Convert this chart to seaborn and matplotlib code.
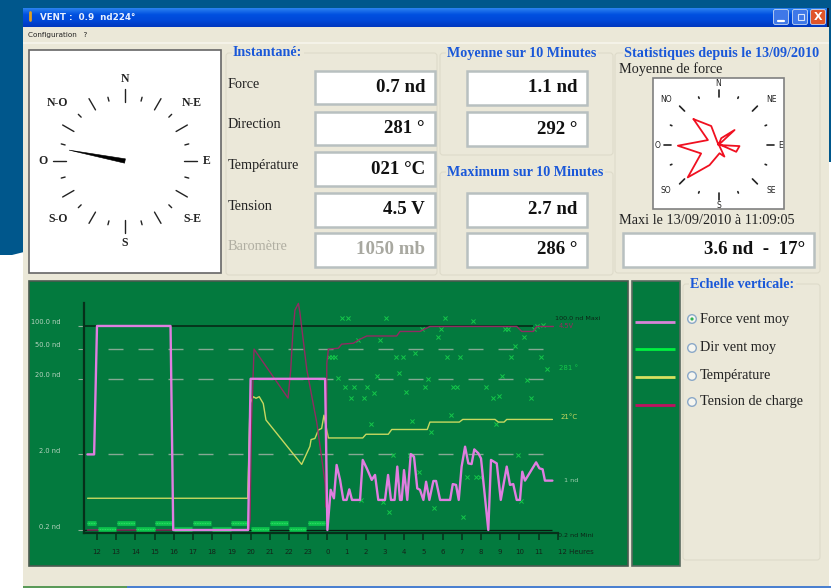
import numpy as np
import pandas as pd
import seaborn as sns
import matplotlib
matplotlib.use("Agg")
import matplotlib.pyplot as plt
from matplotlib.patches import Rectangle, FancyBboxPatch, Polygon, Circle

# ---------- data (hours since 12:00) ----------
force_t = [-0.5,-0.15,0,3.83,3.97,7.87,8.0,11.88,12.0,12.17,12.34,12.48,12.66,12.83,13.0,13.14,13.28,13.70,13.84,14.05,14.31,14.48,14.65,15.0,15.16,15.31,15.5,15.64,15.78,15.87,15.99,16.16,16.34,16.51,16.68,16.82,17.0,17.14,17.31,17.52,17.66,17.87,18.39,18.53,18.70,18.84,18.99,19.17,19.34,19.51,19.65,19.86,20.0,20.38,20.52,20.82,21.03,21.34,21.51,21.68,21.86,22.03,22.15,22.29,22.87,23.04,23.21,23.33,23.72]
force_v = [2.0,2.0,100,100,0.2,0.2,20,20,0.2,0.68,0.525,1.45,0.92,0.5,0.5,0.69,0.5,0.5,1.69,1.31,0.92,1.07,0.5,0.5,1.07,0.5,0.5,1.38,0.5,0.5,1.24,0.5,2.02,1.87,0.71,0.68,0.5,0.87,0.5,0.89,0.89,0.5,0.5,0.81,0.79,0.5,1.38,2.53,1.52,1.49,2.33,2.07,1.77,0.2,1.69,1.52,0.5,1.38,0.79,0.81,0.5,0.5,1.18,0.90,1.57,1.31,1.27,0.90,0.90]

volt_t = [-0.5,7.9,7.97,8.05,8.18,9.95,10.09,10.2,10.31,10.49,10.57,10.93,11.45,11.88,11.94,11.97,12.05,12.57,12.74,13.35,13.61,14.05,15.61,15.78,16.82,17.34,21.86,22.12,22.73,22.9,23.77]
volt_v = [0,0,0.22,2.43,3.99,2.91,3.53,4.35,4.85,5.0,4.79,3.53,2.36,1.04,0.5,3.68,3.99,4.01,4.10,4.12,4.19,4.28,4.28,4.38,4.38,4.49,4.49,4.38,4.38,4.49,4.49]

temp_t = [-0.49,7.85,7.97,8.14,8.28,8.45,8.66,8.80,10.66,11.09,11.15,11.35,11.53,11.70,11.82,12.05,13.84,14.01,15.17,15.35,17.2,17.34,18.87,19.05,20.73,20.9,21.2,21.34,23.72]
temp_v = [6.0,6.0,23.9,25.2,24.9,25.2,23.9,20.8,12.4,15.8,17.1,17.3,18.9,19.2,21.7,17.4,17.4,18.1,18.1,19.0,19.0,20.4,20.4,20.9,20.9,20.4,20.4,20.9,20.9]

dir_t = [12.10,12.24,12.41,12.57,12.74,12.90,13.07,13.25,13.39,13.59,13.77,13.92,14.08,14.25,14.43,14.57,14.74,14.91,15.07,15.23,15.40,15.57,15.73,15.92,16.10,16.30,16.42,16.56,16.75,16.91,17.08,17.26,17.40,17.57,17.74,17.90,18.11,18.25,18.44,18.56,18.73,18.92,19.08,19.25,19.57,19.74,19.95,20.26,20.61,20.77,20.92,21.08,21.25,21.42,21.58,21.75,21.91,22.08,22.24,22.38,22.59,22.78,22.94,23.11,23.25,23.42]
dir_v = [298,298,298,266,359,253,359,236,253,325,77,236,253,195,243,269,325,75,359,59,147,298,274,298,245,147,200,305,120,342,253,264,182,65,330,342,359,298,209,253,253,298,51,113,355,113,113,253,236,195,239,269,342,342,298,316,147,76,330,263,236,342,347,298,349,280]

band_start = [-0.5,0.03,1.03,2.03,3.0,4.0,5.0,6.0,7.0,8.0,9.0,9.98,10.97]
band_end   = [-0.07,1.0,1.97,3.0,3.93,4.97,5.93,6.97,7.87,8.97,9.93,10.9,11.88]
band_dir   = [42,32,42,32,42,32,42,32,42,32,42,32,42]

grid_dashed = [50, 20, 2]
y_tick_vals = [100, 50, 20, 2, 0.2]
y_tick_text = ["100.0 nd", "50.0 nd", "20.0 nd", "2.0 nd", "0.2 nd"]
hour_labels = ["12","13","14","15","16","17","18","19","20","21","22","23","0","1","2","3","4","5","6","7","8","9","10","11","12 Heures"]

rose_dir   = [316,339,0,47,22,0,93,111,0,153,173,204,223.5,244,269,295,316]
rose_force = [1.08,0.61,0,0.66,0.22,0,0.63,0.57,0.03,0.39,0.25,0.66,1.34,0.58,1.22,0.35,1.08]

needle_dir = 281
inst_labels = ["Force","Direction","Température","Tension","Baromètre"]
inst_values = ["0.7 nd","281 °","021 °C","4.5 V","1050 mb"]
legend_labels = ["Force vent moy","Dir vent moy","Température","Tension de charge"]

# ---------- theme ----------
sns.set_theme(style="white")
plt.rcParams['font.family'] = ['Liberation Serif', 'DejaVu Sans']
W, H = 831, 588
fig = plt.figure(figsize=(W/100, H/100), dpi=100, facecolor="white")

WIN = "#ebe8d8"; BLUE = "#1a58d8"; GREEN = "#037a3e"
BODY = 10.3; VAL = 13.6; HEAD = 10.2
bg = fig.add_axes([0, 0, 1, 1]); bg.set_axis_off()
bg.imshow(np.linspace(0, 1, 20).reshape(-1, 1), extent=(23, 827, 27, 8), aspect="auto",
          cmap=matplotlib.colors.LinearSegmentedColormap.from_list("t", ["#2a80f0", "#0050e0", "#0048d8", "#0038c0"]), zorder=2)
bg.set_xlim(0, W); bg.set_ylim(H, 0)

def rect(x0, y0, x1, y1, fc, ec="none", lw=0, z=1):
    bg.add_patch(Rectangle((x0, y0), x1-x0, y1-y0, fc=fc, ec=ec, lw=lw, zorder=z))

# desktop
rect(0, 0, W, 255, "#00578c", z=0)
rect(829, 162, W, H, "white", z=0.5)
bg.add_patch(Polygon([(0, 258), (24, 252), (24, H), (0, H)], fc="white", ec="none", zorder=0.5))
rect(23, 8, 829, 586, WIN)
rect(827, 8, 829, 27, "#101830", z=2)
rect(23, 586, 127, H, "#5a9a58", z=2); rect(127, 586, W, H, "#4a80d0", z=2)
rect(23, 42, 829, 44, "#f4f2e8", z=1.5)

# window buttons
for x0, c in [(774, "#3f78e8"), (793, "#3f78e8"), (811, "#e0552a")]:
    bg.add_patch(FancyBboxPatch((x0, 10), 14, 14, boxstyle="round,pad=0.5,rounding_size=2", fc=c, ec="#c8d8f0", lw=0.6, zorder=3))
bg.plot([778, 784], [21, 21], color="white", lw=1.6, zorder=4)
bg.add_patch(Rectangle((798, 14), 6, 6, fc="none", ec="#d8e4f8", lw=0.8, zorder=4))
bg.text(818, 17, "X", color="white", fontsize=8, fontweight="bold", family="DejaVu Sans", ha="center", va="center", zorder=4)

bg.text(40, 17, "VENT :  0.9  nd224°", color="#e8f0ff", fontsize=6.3, fontweight="bold", family="DejaVu Sans", va="center", zorder=4)
bg.plot([30, 30], [12, 20], color="#e0a020", lw=2, zorder=4)
bg.text(28, 34.5, "Configuration   ?", color="#222222", fontsize=5.2, family="DejaVu Sans", va="center", zorder=4)

def group(x0, y0, x1, y1, title, tx):
    bg.add_patch(FancyBboxPatch((x0, y0), x1-x0, y1-y0, boxstyle="round,pad=0,rounding_size=3",
                                fc="#ebe8d9", ec="#dedbca", lw=0.8, zorder=1.2))
    bg.text(tx, y0, title, color=BLUE, fontsize=HEAD, fontweight="bold", va="center", zorder=3,
            bbox=dict(fc=WIN, ec="none", pad=1))

def vbox(x0, y0, x1, y1, txt, tx, color="#111111"):
    rect(x0, y0, x1, y1, "white", ec="#b8c0c0", lw=1.8, z=2)
    bg.text(tx, (y0+y1)/2, txt, color=color, fontsize=VAL, fontweight="bold", ha="right", va="center", zorder=3)

group(226, 53, 437, 275, "Instantané:", 233)
group(440, 53, 613, 155, "Moyenne sur 10 Minutes", 447)
group(440, 172, 613, 275, "Maximum sur 10 Minutes", 447)
group(615, 53, 820, 273, "Statistiques depuis le 13/09/2010", 624)
group(683, 284, 820, 560, "Echelle verticale:", 690)

box_y = [(71, 104), (112, 145), (152, 186), (193, 227), (233, 267)]
label_y = [85, 125, 165, 206, 246]
for i, (lab, val) in enumerate(zip(inst_labels, inst_values)):
    grey = i == 4
    bg.text(228, label_y[i], lab, color="#b0aea2" if grey else "#222222", fontsize=BODY, va="center", zorder=3)
    vbox(315, box_y[i][0], 435, box_y[i][1], val, 425, "#a8a8a0" if grey else "#111111")
vbox(467, 71, 587, 105, "1.1 nd", 577)
vbox(467, 112, 587, 146, "292 °", 577)
vbox(467, 193, 587, 227, "2.7 nd", 577)
vbox(467, 233, 587, 267, "286 °", 577)
bg.text(619, 69, "Moyenne de force", color="#222222", fontsize=BODY, va="center", zorder=3)
bg.text(619, 221, "Maxi le 13/09/2010 à 11:09:05", color="#222222", fontsize=BODY, va="center", zorder=3)
vbox(623, 233, 814, 267, "3.6 nd  -  17°", 805)

# white compass boxes
rect(29, 50, 221, 273, "white", ec="#666666", lw=1.2, z=2)
rect(653, 78, 784, 209, "white", ec="#808080", lw=1.2, z=2)

def polar_axes(cx, cy, R):
    a = fig.add_axes([(cx-R)/W, 1-(cy+R)/H, 2*R/W, 2*R/H], projection="polar", zorder=5)
    a.set_theta_zero_location("N"); a.set_theta_direction(-1)
    a.set_axis_off(); a.patch.set_alpha(0); a.set_rlim(0, R)
    return a

# large compass
comp = polar_axes(125, 161, 92)
for deg in range(0, 360, 15):
    major = deg % 30 == 0
    comp.plot(np.radians([deg, deg]), [59, 72] if major else [62, 66], color="#222222", lw=1.0)
for lab, deg, r in [("N", 0, 82), ("E", 90, 82), ("S", 180, 82), ("O", 270, 82),
                    ("N-E", 49, 89), ("S-E", 131, 89), ("S-O", 229, 89), ("N-O", 311, 89)]:
    comp.text(np.radians(deg), r, lab, fontsize=8.5, fontweight="bold", color="#222222", ha="center", va="center")
needle_len = 57
nth = np.radians(needle_dir)
dx, dy = np.sin(nth), -np.cos(nth)
bg.add_patch(Polygon([(125-dy*2.2, 161+dx*2.2), (125+dy*2.2, 161-dx*2.2),
                      (125+needle_len*dx, 161+needle_len*dy)], fc="#000000", ec="#000000", lw=0.4, zorder=3))

# wind-force rose
rose = polar_axes(718.5, 145, 65)
rscale = 134/3/1.34
rose.set_rlim(0, 65/rscale)
for deg in np.arange(0, 360, 22.5):
    major = deg % 45 == 0
    r0, r1 = (48, 55) if major else (50.5, 52)
    rose.plot(np.radians([deg, deg]), [r0/rscale, r1/rscale], color="#222222", lw=1.2)
for lab, deg, r in [("N", 0, 62), ("E", 90, 62), ("S", 180, 60), ("O", 270, 61),
                    ("NE", 49, 70), ("SE", 131, 70), ("SO", 229, 70), ("NO", 311, 70)]:
    rose.text(np.radians(deg), r/rscale, lab, fontsize=5.5, color="#222222", family="DejaVu Sans", ha="center", va="center")
rose_df = pd.DataFrame({"theta": np.radians(rose_dir), "force": rose_force})
sns.lineplot(data=rose_df, x="theta", y="force", ax=rose, color="#f01020", lw=1.3, sort=False, estimator=None, legend=False)
rose.set_rlim(0, 65/rscale)
rose.set_axis_off()

# chart panels
rect(29, 281, 628, 566, GREEN, ec="#4a5a50", lw=1.2, z=2)
rect(632, 281, 680, 566, GREEN, ec="#5a6a60", lw=1.2, z=2)
swatch = ["#d884d8", "#00f040", "#d8e060", "#c01060"]
swatch_y = [321.5, 349, 377, 405]
radio_y = [319, 348, 376, 402]
for lab, c, sy, ry in zip(legend_labels, swatch, swatch_y, radio_y):
    bg.plot([635, 675], [sy, sy], color=c, lw=2, zorder=3, solid_capstyle="butt")
    bg.add_patch(Circle((692, ry), 4.3, fc="#f6f6f0", ec="#8aa8c8", lw=1, zorder=3))
    bg.text(700, ry, lab, color="#222222", fontsize=BODY, va="center", zorder=3)
bg.add_patch(Circle((692, 319), 1.6, fc="#30b050", ec="none", zorder=4))

# ---------- chart axes (pixel rect 29..628 x 281..566) ----------
px_per_hour = 19.2
t_of = lambda px: (px-97)/px_per_hour
rect_ax = [29/W, 1-566/H, (628-29)/W, (566-281)/H]
xlim = (t_of(29), t_of(628))
decade = 75.6
force_lim = (0.2*10**((530-566)/decade), 0.2*10**((530-281)/decade))
dir_lim = ((550-566)/0.646, (550-281)/0.646)
temp_lim = ((530-566)/5.29, (530-281)/5.29)
volt_lim = ((530-566)/45.33, (530-281)/45.33)

def make_twin(z):
    a = fig.add_axes(rect_ax, zorder=z)
    a.patch.set_alpha(0)
    return a

ax_ref = make_twin(5.5); ax_ref.set_yscale("log")
ax_dir = make_twin(6); ax_temp = make_twin(7); ax_volt = make_twin(8); ax_band = make_twin(8.5)

t_axis = t_of(84)
v_axis = 0.2*10**(-3/decade)
v_top = 0.2*10**((530-303)/decade)
DARK = "#06301a"

# reference lines
ax_ref.hlines(100, t_axis, t_of(533), color=DARK, lw=1.3)
ax_ref.hlines(0.2, t_axis, t_of(552), color="#0a1a10", lw=0.9)
ax_ref.hlines(grid_dashed, t_of(108.3), t_of(543), color="#86a894", lw=1.0, linestyles=(0, (10.8, 10.8)))

sns.scatterplot(x=dir_t, y=dir_v, ax=ax_dir, marker="x", s=9, color="#14c84a", linewidth=0.7, legend=False)
sns.lineplot(x=temp_t, y=temp_v, ax=ax_temp, color="#c8d860", lw=1.0, sort=False, estimator=None, legend=False)
sns.lineplot(x=volt_t, y=volt_v, ax=ax_volt, color="#922a62", lw=1.0, sort=False, estimator=None, legend=False)
ax_band.hlines(band_dir, band_start, band_end, color="#0cc44c", lw=3.4)
ax_band.hlines(band_dir, band_start, band_end, color="#40e070", lw=0.6, linestyles=(0, (1, 1)))
for a, lim in ((ax_ref, force_lim), (ax_dir, dir_lim), (ax_temp, temp_lim), (ax_volt, volt_lim), (ax_band, dir_lim)):
    a.set_xlim(xlim); a.set_ylim(lim); a.set_axis_off()

ax = fig.add_axes(rect_ax, zorder=9)
ax.patch.set_alpha(0)
ax.set_yscale("log")
sns.lineplot(x=force_t, y=force_v, ax=ax, color="#e07ee0", lw=1.7, sort=False, estimator=None, legend=False, zorder=5)
ax.set_xlim(xlim)
ax.set_ylim(force_lim)

for s in ("top", "right"):
    ax.spines[s].set_visible(False)
for s in ("left", "bottom"):
    ax.spines[s].set_color(DARK); ax.spines[s].set_linewidth(1.6)
ax.spines["left"].set_position(("data", t_axis))
ax.spines["bottom"].set_position(("data", v_axis))
ax.spines["left"].set_bounds(v_axis, v_top)
ax.spines["bottom"].set_bounds(t_axis, 24)

ax.set_xticks(range(25))
ax.set_xticklabels(hour_labels, fontsize=5, color="#14241a", family="DejaVu Sans")
ax.tick_params(axis="x", length=5, width=1.1, color=DARK, pad=6.5, bottom=True)
ax.get_xticklabels()[-1].set_ha("left")

ax.set_yticks(y_tick_vals); ax.set_yticklabels([])
ax.minorticks_off()
ax.tick_params(axis="y", length=4, width=0.8, color="#8fb09a", left=True)
ax.set_xlabel(""); ax.set_ylabel("")
for v, txt in zip(y_tick_vals, y_tick_text):
    ax.annotate(txt, (t_axis, v), xytext=(-17, 2.5), textcoords="offset points", ha="right", va="center",
                fontsize=4.8, color="#b8d4c0", family="DejaVu Sans", annotation_clip=False)

# end-of-series labels
end_labels = [("100.0 nd Maxi", t_of(555), 100, 5.5, "#0c2416"),
              ("0.2 nd Mini", t_of(558), 0.2, -4, "#0c2416"),
              ("1 nd", t_of(564), 0.9, 0, "#a0d0b0")]
for txt, x, v, off, c in end_labels:
    ax.annotate(txt, (x, v), xytext=(0, off), textcoords="offset points", va="center", ha="left",
                fontsize=4.6, color=c, family="DejaVu Sans")
ax_volt.annotate("4.5V", (t_of(559), 4.5), xytext=(0, 0), textcoords="offset points", va="center",
                 fontsize=4.8, color="#9a2860", family="DejaVu Sans")
ax_dir.annotate("281 °", (t_of(559), 281), va="center", fontsize=5, color="#14c84a", family="DejaVu Sans")
ax_temp.annotate("21°C", (t_of(561), 20.9), xytext=(0, 2), textcoords="offset points", va="center",
                 fontsize=5, color="#c8d860", family="DejaVu Sans")

fig.savefig("out.png", dpi=100, facecolor="white")
